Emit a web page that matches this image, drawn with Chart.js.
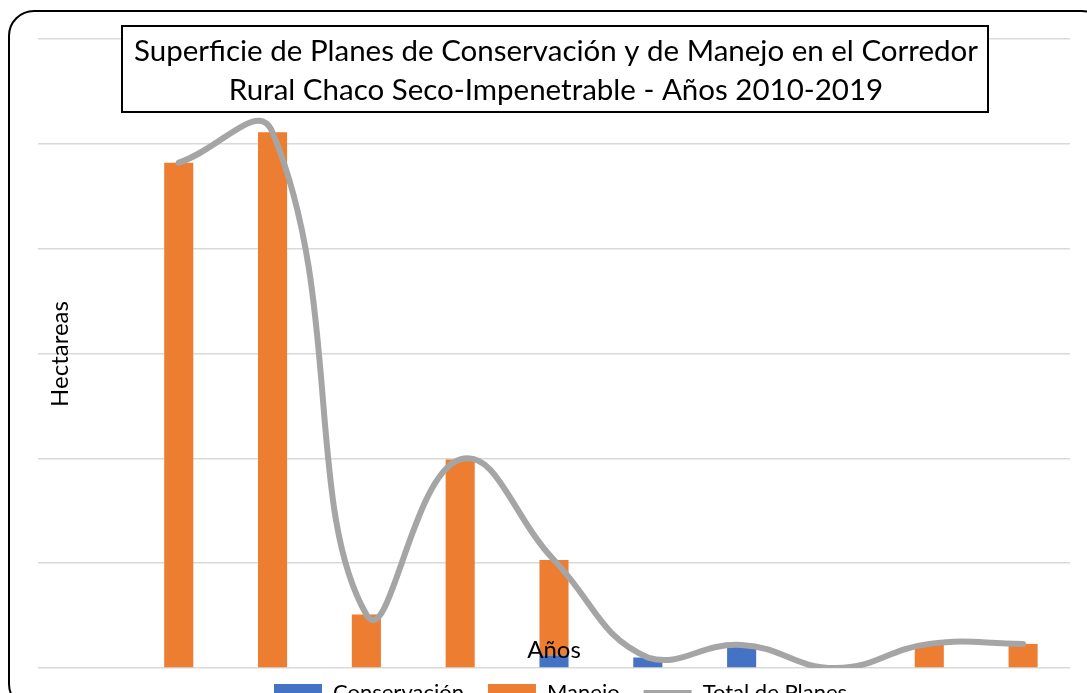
<!DOCTYPE html>
<html>
<head>
<meta charset="utf-8">
<script src="https://cdn.jsdelivr.net/npm/chart.js@4.4.0/dist/chart.umd.min.js"></script>
<style>
  html, body { margin: 0; padding: 0; overflow: hidden; background: #fff; }
  #wrap { position: absolute; left: 0; top: 0; width: 1087px; height: 730px; }
  #frame { position: absolute; left: 8px; top: 10px; width: 1100px; height: 700px;
           border: 2px solid #000; border-radius: 26px; box-sizing: border-box; pointer-events: none; }
</style>
</head>
<body>
<div id="wrap">
  <canvas id="grafico" width="1087" height="730"></canvas>
  <div id="frame"></div>
</div>
<script>
// datos (hectareas)
var anios = ['', '2010', '2011', '2012', '2013', '2014', '2015', '2016', '2017', '2018', '2019'];
var conservacion = [null, 0, 0, 0, 0, 1200, 1000, 2200, 0, 0, 0];
var manejo = [null, 48200, 51100, 5100, 19900, 9100, 0, 0, 0, 2300, 2300];
var totalPlanes = [null, 48200, 51100, 5100, 19900, 10300, 1000, 2200, 0, 2300, 2300];

var tituloLineas = ['Superficie de Planes de Conservación y de Manejo en el Corredor',
                    'Rural Chaco Seco-Impenetrable - Años 2010-2019'];
var fuente = 'Lato, "Open Sans", sans-serif';

var textosExtra = {
    id: 'textosExtra',
    afterLayout: function(chart) {
        // la leyenda del original no esta centrada
        chart.legend.left = 274 - 24;
        chart.legend.top = 682 - 24;
    },
    afterDraw: function(chart) {
        var ctx = chart.ctx;
        ctx.save();
        // caja del titulo
        ctx.fillStyle = '#fff';
        ctx.fillRect(122, 26, 866, 86);
        ctx.strokeStyle = '#000';
        ctx.lineWidth = 2;
        ctx.strokeRect(122, 26, 866, 86);
        ctx.fillStyle = '#000';
        ctx.textAlign = 'center';
        ctx.textBaseline = 'alphabetic';
        ctx.font = '27px ' + fuente;
        var w = ctx.measureText(tituloLineas[0]).width;
        var size = 27 * 845 / w;
        ctx.font = size.toFixed(1) + 'px ' + fuente;
        ctx.fillText(tituloLineas[0], 556, 61);
        ctx.fillText(tituloLineas[1], 556, 100);
        // titulos de ejes
        ctx.font = '24px ' + fuente;
        ctx.textBaseline = 'middle';
        ctx.fillText('Años', 554, 650);
        ctx.translate(60, 354);
        ctx.rotate(-Math.PI / 2);
        ctx.fillText('Hectareas', 0, 0);
        ctx.restore();
    }
};

var ctx = document.getElementById('grafico').getContext('2d');
var grafico = new Chart(ctx, {
    type: 'bar',
    data: {
        labels: anios,
        datasets: [{
            label: 'Conservación',
            data: conservacion,
            backgroundColor: '#4472c4',
            stack: 'planes',
            pointStyle: 'rect',
            order: 1
        }, {
            label: 'Manejo',
            data: manejo,
            backgroundColor: '#ed7d31',
            stack: 'planes',
            pointStyle: 'rect',
            order: 1
        }, {
            type: 'line',
            label: 'Total de Planes',
            data: totalPlanes,
            borderColor: '#a5a5a5',
            backgroundColor: '#a5a5a5',
            borderWidth: 6,
            borderCapStyle: 'round',
            pointRadius: 0,
            pointStyle: 'line',
            tension: 0.45,
            stack: 'total',
            order: 0
        }]
    },
    options: {
        responsive: false,
        animation: false,
        layout: { padding: { left: 38, right: 17, top: 39, bottom: 6 } },
        datasets: { bar: { categoryPercentage: 1, barPercentage: 0.31 } },
        scales: {
            x: { display: false, stacked: true },
            y: {
                stacked: true,
                min: 0,
                max: 60000,
                ticks: { display: false, stepSize: 10000 },
                grid: { color: '#d9d9d9', lineWidth: 1.5, drawTicks: false },
                border: { display: false }
            }
        },
        plugins: {
            title: { display: false },
            tooltip: { enabled: false },
            legend: {
                position: 'bottom',
                align: 'start',
                labels: {
                    usePointStyle: true,
                    pointStyleWidth: 48,
                    boxHeight: 18,
                    padding: 24,
                    color: '#000',
                    font: { family: fuente, size: 22 },
                    sort: function(a, b) { return a.datasetIndex - b.datasetIndex; }
                }
            }
        }
    },
    plugins: [textosExtra]
});
</script>
</body>
</html>
